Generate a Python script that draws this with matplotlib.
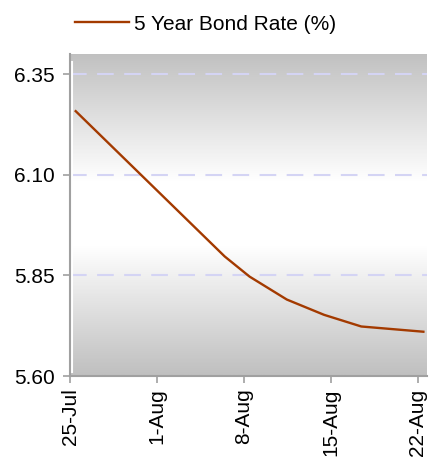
import numpy as np
import pandas as pd
import matplotlib
matplotlib.use("Agg")
import matplotlib.pyplot as plt
import matplotlib.dates as mdates
from matplotlib.colors import LinearSegmentedColormap

plt.rcParams['font.family'] = ['Liberation Sans', 'DejaVu Sans']

# ---- data ----
dates = ["2011-07-25", "2011-08-06", "2011-08-08", "2011-08-11",
         "2011-08-14", "2011-08-17", "2011-08-22"]
rates = [6.258, 5.897, 5.847, 5.790, 5.752, 5.723, 5.710]
series_label = "5 Year Bond Rate (%)"
tick_dates = ["2011-07-25", "2011-08-01", "2011-08-08", "2011-08-15", "2011-08-22"]
tick_labels = ["25-Jul", "1-Aug", "8-Aug", "15-Aug", "22-Aug"]
y_ticks = [5.60, 5.85, 6.10, 6.35]

x = pd.to_datetime(dates) + pd.Timedelta(hours=11)
xt = pd.to_datetime(tick_dates)

fig = plt.figure(figsize=(4.45, 4.63), dpi=100)
ax = fig.add_axes([70/445, 1-376/463, (427-70)/445, (376-54)/463])

xmin = mdates.date2num(xt[0])
xmax = mdates.date2num(xt[-1]) + 0.75
ymin, ymax = 5.60, 6.40

# gradient background: gray at edges, white in middle
t = np.linspace(0, 1, 400)
g = np.clip((np.abs(t - 0.505) - 0.10) / 0.40, 0, 1)
cmap = LinearSegmentedColormap.from_list("g", ["#ffffff", "#c0c0c0"])
ax.imshow(g[:, None], aspect='auto', cmap=cmap, vmin=0, vmax=1,
          extent=[xmin, xmax, ymin, ymax], origin='lower', zorder=0,
          interpolation='bilinear')
ax.set_facecolor('white')

for yv in y_ticks[1:]:
    ax.axhline(yv, color='#d4d4f4', lw=1.5, dashes=(8, 5), zorder=1)

ax.plot([0.006, 0.006], [0.012, 0.975], transform=ax.transAxes,
        color='white', lw=1.5, zorder=1)

ax.plot(x, rates, color='#A33A00', lw=1.7, zorder=3, label=series_label)

ax.set_xlim(xmin, xmax)
ax.set_ylim(ymin, ymax)
ax.set_xticks(mdates.date2num(xt))
ax.set_xticklabels(tick_labels, rotation=90)
ax.set_yticks(y_ticks)
ax.set_yticklabels([f"{v:.2f}" for v in y_ticks])

for s in ['top', 'right']:
    ax.spines[s].set_visible(False)
for s in ['left', 'bottom']:
    ax.spines[s].set_color('#a0a0a0')
    ax.spines[s].set_linewidth(1.5)
ax.tick_params(axis='both', colors='#a0a0a0', labelcolor='black',
               labelsize=15, length=5, width=1.2, direction='out')
ax.tick_params(axis='x', pad=4)
ax.tick_params(axis='y', pad=6)

fig.legend(loc='center', bbox_to_anchor=(0.462, 1-24/463), frameon=False,
           fontsize=15, handlelength=2.6, handletextpad=0.25)

fig.savefig("out.png", dpi=100)
